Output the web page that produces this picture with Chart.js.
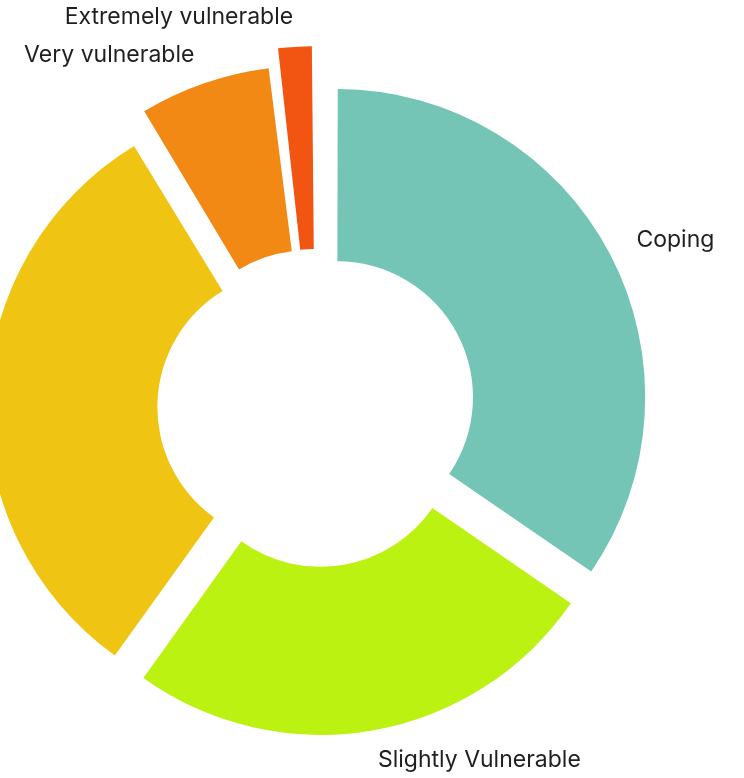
<!DOCTYPE html>
<html>
<head>
<meta charset="utf-8">
<script src="https://cdn.jsdelivr.net/npm/chart.js@4.4.0/dist/chart.umd.min.js"></script>
<style>
  html, body { margin: 0; padding: 0; background: #fff; }
  #wrap { position: relative; width: 744px; height: 778px; overflow: hidden; }
</style>
</head>
<body>
<div id="wrap"><canvas id="vulnChart" width="744" height="778"></canvas></div>
<script>
const categories = ['Coping', 'Slightly Vulnerable', 'Moderately vulnerable', 'Very vulnerable', 'Extremely vulnerable'];
const shares = [34.6, 25.3, 31.4, 6.8, 1.9];
const sliceColors = ['#75c5b7', '#bcf212', '#f0c412', '#f18914', '#f25412'];

// chart.js pushes each arc out by offset / 4
const SLICE_OFFSET = 93;
const LABEL_GAP = 30;

// small arcs get their radii grown by the offset: keep the hole the same size
// and let the thinnest slivers reach a bit further out
const evenHole = {
  id: 'evenHole',
  afterDatasetsUpdate(chart) {
    const shift = SLICE_OFFSET / 4;
    chart.getDatasetMeta(0).data.forEach(arc => {
      const fix = 1 - Math.sin(Math.min(Math.PI, arc.circumference));
      arc.innerRadius -= shift * fix;
      arc.outerRadius += shift * Math.pow(fix, 4);
    });
  }
};

// category names outside each slice
const outerLabels = {
  id: 'outerLabels',
  afterDatasetsDraw(chart) {
    const ctx = chart.ctx;
    const shift = SLICE_OFFSET / 4;
    ctx.save();
    ctx.font = '23px Inter';
    ctx.fillStyle = '#1f1f1f';
    ctx.textBaseline = 'middle';
    chart.getDatasetMeta(0).data.forEach((arc, i) => {
      const mid = (arc.startAngle + arc.endAngle) / 2;
      const fix = 1 - Math.sin(Math.min(Math.PI, arc.circumference));
      const r = arc.outerRadius + shift * fix + shift + LABEL_GAP;
      ctx.textAlign = Math.cos(mid) >= 0 ? 'left' : 'right';
      ctx.fillText(chart.data.labels[i], arc.x + Math.cos(mid) * r, arc.y + Math.sin(mid) * r);
    });
    ctx.restore();
  }
};

new Chart(document.getElementById('vulnChart'), {
  type: 'doughnut',
  data: {
    labels: categories,
    datasets: [{
      data: shares,
      backgroundColor: sliceColors,
      borderWidth: 0,
      offset: SLICE_OFFSET
    }]
  },
  options: {
    responsive: false,
    animation: false,
    events: [],
    radius: 304,
    cutout: '44.7%',
    layout: { padding: { left: 0, right: 111, top: 38, bottom: 0 } },
    plugins: {
      legend: { display: false },
      tooltip: { enabled: false }
    }
  },
  plugins: [evenHole, outerLabels]
});
</script>
</body>
</html>
